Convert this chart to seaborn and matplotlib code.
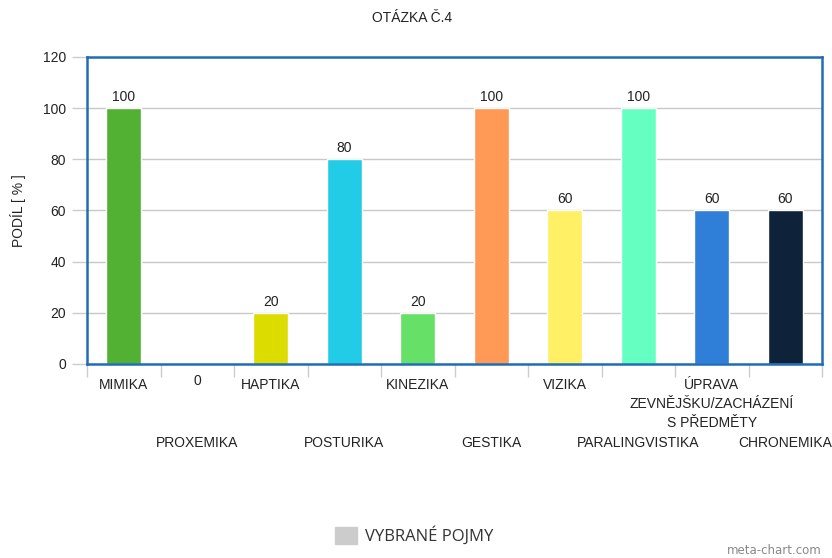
import matplotlib
matplotlib.use('Agg')
import matplotlib.pyplot as plt
import seaborn as sns
import pandas as pd

# data
kategorie = ['MIMIKA', 'PROXEMIKA', 'HAPTIKA', 'POSTURIKA', 'KINEZIKA', 'GESTIKA',
             'VIZIKA', 'PARALINGVISTIKA', 'ÚPRAVA\nZEVNĚJŠKU/ZACHÁZENÍ\nS PŘEDMĚTY', 'CHRONEMIKA']
podil = [100, 0, 20, 80, 20, 100, 60, 100, 60, 60]
barvy = ['#52b032', '#7cb5ec', '#dcdc00', '#22cce6', '#66e066', '#ff9955',
         '#fff066', '#66ffc2', '#2f7ed8', '#0e233a']
y_ticks = [0, 20, 40, 60, 80, 100, 120]

df = pd.DataFrame({'Pojem': kategorie, 'Podil': podil})

sns.set_style('white')
plt.rcParams['font.family'] = ['Liberation Sans', 'DejaVu Sans']

fig = plt.figure(figsize=(8.32, 5.58), dpi=100)
ax = fig.add_axes([0.1046, 0.3477, 0.8834, 0.5503])

sns.barplot(data=df, x='Pojem', y='Podil', hue='Pojem', palette=barvy,
            legend=False, width=0.48, saturation=1, ax=ax, zorder=3)

ax.set_xlim(-0.5, len(kategorie) - 0.5)
ax.set_ylim(0, 120)
ax.set_yticks(y_ticks)
ax.tick_params(axis='y', labelsize=10, length=11, width=1, color='#cccccc',
               left=True, pad=4, labelcolor='#222222')
ax.yaxis.grid(True, color='#c8c8c8', linewidth=1, zorder=0)

# x ticks at slot boundaries, labels drawn separately in two rows
ax.set_xticks([i - 0.5 for i in range(len(kategorie) + 1)])
ax.set_xticklabels([])
ax.tick_params(axis='x', length=9, width=1, color='#cccccc', bottom=True)

for s in ax.spines.values():
    s.set_color('#1f6db5')
    s.set_linewidth(1.8)
    s.set_zorder(5)

for i, (nazev, v) in enumerate(zip(kategorie, podil)):
    off = -10 if i % 2 == 0 else -52
    ax.annotate(nazev, xy=(i, 0), xycoords=('data', 'axes fraction'),
                xytext=(0, off), textcoords='offset points',
                ha='center', va='top', fontsize=10, color='#222222',
                linespacing=1.45)
    if v == 0:
        ax.annotate(str(v), xy=(i, 0), xytext=(0, -7), textcoords='offset points',
                    ha='center', va='top', fontsize=10, color='#222222')
    else:
        ax.annotate(str(v), xy=(i, v), xytext=(0, 3), textcoords='offset points',
                    ha='center', va='bottom', fontsize=10, color='#222222')

ax.set_xlabel('')
ax.set_ylabel('PODÍL [ % ]', fontsize=10, color='#222222', labelpad=12)

fig.text(0.495, 0.967, 'OTÁZKA Č.4', ha='center', va='center', fontsize=10, color='#222222')

# legend
fig.patches.append(plt.Rectangle((335 / 832, 1 - 544 / 558), 22 / 832, 17 / 558,
                                 transform=fig.transFigure, color='#cccccc'))
fig.text(365 / 832, 1 - 536 / 558, 'VYBRANÉ POJMY', ha='left', va='center',
         fontsize=12, color='#333333', family=['Open Sans', 'DejaVu Sans'])
fig.text(0.988, 1 - 551 / 558, 'meta-chart.com', ha='right', va='center',
         fontsize=8.5, color='#888888', family=['DejaVu Sans'])

fig.savefig('out.png', dpi=100)
